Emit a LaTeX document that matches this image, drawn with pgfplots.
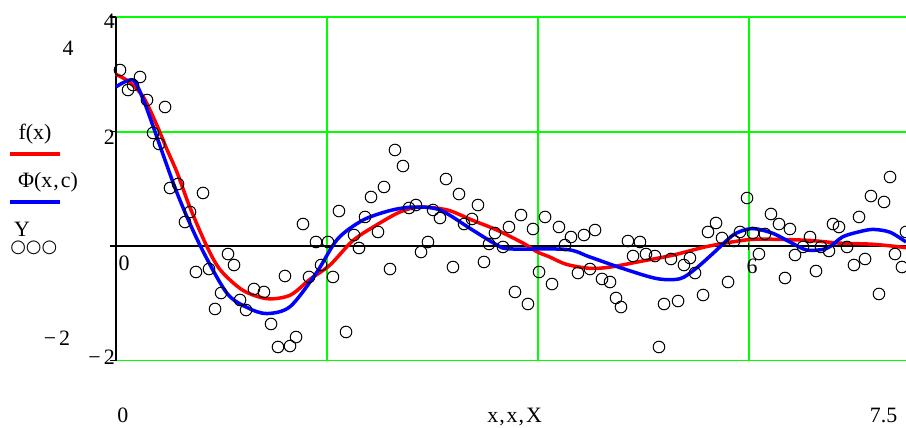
\documentclass[border=0pt]{standalone}
\usepackage{pgfplots}
\pgfplotsset{compat=1.18}
\usepackage{fontspec}
\setmainfont{Liberation Serif}
\newfontfamily\symfont{DejaVu Sans}
\definecolor{mcgreen}{RGB}{0,255,0}
\definecolor{mcred}{RGB}{255,0,0}
\definecolor{mcblue}{RGB}{0,0,255}
\begin{document}
\begin{tikzpicture}[font=\fontsize{22}{25}\selectfont]
\useasboundingbox (-116bp,-182bp) rectangle (790bp,246bp);
\begin{axis}[at={(0,0)}, anchor=origin,
  x=105.47bp, y=57.25bp,
  xmin=0, xmax=7.5, ymin=-2, ymax=4,
  axis lines=none, ticks=none, clip=false]
% grid
\draw[mcgreen, line width=1.5bp] (axis cs:2,-2) -- (axis cs:2,4);
\draw[mcgreen, line width=1.5bp] (axis cs:4,-2) -- (axis cs:4,4);
\draw[mcgreen, line width=1.5bp] (axis cs:6,-2) -- (axis cs:6,4);
\draw[mcgreen, line width=1.5bp] (axis cs:0,4) -- (axis cs:7.5,4);
\draw[mcgreen, line width=1.5bp] (axis cs:0,1.995) -- (axis cs:7.5,1.995);
\draw[mcgreen, line width=1.5bp] (axis cs:0,-2) -- (axis cs:7.5,-2);
% axes
\draw[black, line width=1.3bp] (axis cs:0,-2) -- (axis cs:0,4);
\draw[black, line width=1.1bp] (axis cs:-0.057,0) -- (axis cs:7.5,0);
\draw[black, line width=1.3bp] (axis cs:-0.057,4) -- (axis cs:0,4);
\draw[black, line width=1.3bp] (axis cs:-0.057,2) -- (axis cs:0,2);
\draw[black, line width=1.3bp] (axis cs:-0.057,-2) -- (axis cs:0,-2);
\draw[black, line width=1.1bp] (axis cs:6,0.05) -- (axis cs:6,-0.07);
% tick labels
\node[anchor=east, inner sep=0pt] at (axis cs:-0.01,3.93) {4};
\node[anchor=east, inner sep=0pt] at (axis cs:-0.01,1.90) {2};
\node[anchor=east, inner sep=0pt] at (axis cs:-0.01,-1.94) {−\hspace{3bp}2};
\node[inner sep=0pt] at (axis cs:0.076,-0.31) {0};
\node[inner sep=0pt] at (axis cs:6.03,-0.35) {6};
% outer labels
\node[inner sep=0pt] at (axis cs:-0.455,3.459) {4};
\node[inner sep=0pt] at (axis cs:-0.56,-1.607) {−\hspace{3bp}2};
\node[inner sep=0pt, anchor=base] at (axis cs:0.066,-3.09) {0};
\node[inner sep=0pt, anchor=base] at (axis cs:7.277,-3.09) {7.5};
\node[inner sep=0pt, anchor=base] at (axis cs:3.78,-3.09) {x\hspace{1bp},\hspace{2bp}x\hspace{1bp},\hspace{2bp}X};
% legend
\node[inner sep=0pt] at (axis cs:-0.768,1.95) {f(x)};
\draw[mcred, line width=3.5bp] (axis cs:-1.005,1.607) -- (axis cs:-0.531,1.607);
\node[inner sep=0pt] at (axis cs:-0.645,1.12) {Φ(x\hspace{1bp},\hspace{2bp}c)};
\draw[mcblue, line width=3.5bp] (axis cs:-1.005,0.768) -- (axis cs:-0.531,0.768);
\node[inner sep=0pt] at (axis cs:-0.89,0.29) {Y};
\node[inner sep=0pt, font=\symfont\fontsize{18}{20}\selectfont] at (axis cs:-0.78,-0.04) {○○○};
% f(x)
\addplot[mcred, line width=3.5bp, smooth, tension=0.5] coordinates {
(0,3.0) (0.13,2.86) (0.26,2.6) (0.39,2.1) (0.48,1.7) (0.58,1.28) (0.70,0.68)
(0.86,0.0) (0.99,-0.42) (1.2,-0.77) (1.43,-0.92) (1.65,-0.86) (1.84,-0.58)
(2.03,-0.33) (2.25,0.1) (2.5,0.4) (2.7,0.6) (2.88,0.68) (3.14,0.63) (3.38,0.45)
(3.61,0.28) (3.86,0.05) (3.99,-0.1) (4.11,-0.19) (4.27,-0.32) (4.49,-0.39)
(4.68,-0.37) (4.97,-0.27) (5.28,-0.16) (5.6,-0.01) (5.91,0.09) (6.1,0.12)
(6.55,0.1) (6.86,0.05) (7.18,0.03) (7.5,-0.03)};
% Phi(x,c)
\addplot[mcblue, line width=3.5bp, smooth, tension=0.5] coordinates {
(0,2.78) (0.16,2.9) (0.26,2.55) (0.35,2.1) (0.58,0.92) (0.8,0.0) (1.05,-0.82)
(1.25,-1.08) (1.43,-1.18) (1.65,-1.06) (1.9,-0.47) (2.1,0.12) (2.34,0.45)
(2.6,0.62) (2.82,0.68) (3.07,0.63) (3.38,0.28) (3.61,0.02) (3.73,-0.05)
(4.27,-0.06) (4.49,-0.19) (4.8,-0.39) (5.13,-0.57) (5.35,-0.57) (5.5,-0.39)
(5.66,-0.13) (5.85,0.19) (5.98,0.29) (6.07,0.3) (6.23,0.22) (6.39,0.07)
(6.55,-0.07) (6.74,-0.04) (6.89,0.16) (7.05,0.25) (7.18,0.29) (7.34,0.24)
(7.49,0.07)};
% Y
\addplot[only marks, mark=o, mark size=5.8bp, mark options={black, line width=1bp}] coordinates {
(0.038,3.074) (0.114,2.725) (0.161,2.812) (0.228,2.952) (0.294,2.550)
(0.351,1.974) (0.408,1.782) (0.465,2.428) (0.512,1.013) (0.588,1.083)
(0.654,0.419) (0.702,0.594) (0.758,-0.454) (0.825,0.926) (0.882,-0.402)
(0.939,-1.100) (0.996,-0.821) (1.062,-0.140) (1.119,-0.332) (1.176,-0.943)
(1.233,-1.118) (1.308,-0.751) (1.403,-0.803) (1.470,-1.362) (1.536,-1.764)
(1.602,-0.524) (1.650,-1.747) (1.707,-1.590) (1.773,0.384) (1.830,-0.541)
(1.896,0.070) (1.944,-0.332) (2.010,0.070) (2.057,-0.541) (2.114,0.611)
(2.181,-1.502) (2.257,0.192) (2.304,-0.035) (2.361,0.507) (2.418,0.856)
(2.484,0.245) (2.541,1.031) (2.598,-0.402) (2.645,1.677) (2.721,1.397)
(2.778,0.664) (2.844,0.716) (2.892,-0.105) (2.958,0.070) (3.006,0.629)
(3.072,0.489) (3.129,1.170) (3.195,-0.367) (3.252,0.908) (3.300,0.384)
(3.375,0.472) (3.432,0.716) (3.489,-0.279) (3.537,0.035) (3.593,0.227)
(3.669,-0.017) (3.726,0.332) (3.783,-0.803) (3.840,0.541) (3.906,-1.013)
(3.954,0.297) (4.011,-0.454) (4.068,0.507) (4.134,-0.664) (4.200,0.332)
(4.257,0.017) (4.314,0.157) (4.380,-0.472) (4.437,0.192) (4.494,-0.402)
(4.542,0.279) (4.608,-0.576) (4.684,-0.629) (4.741,-0.908) (4.788,-1.066)
(4.854,0.087) (4.902,-0.175) (4.968,0.070) (5.025,-0.140) (5.110,-0.175)
(5.148,-1.764) (5.196,-1.013) (5.262,-0.227) (5.329,-0.961) (5.385,-0.332)
(5.442,-0.210) (5.490,-0.472) (5.566,-0.856) (5.613,0.245) (5.689,0.402)
(5.746,0.140) (5.803,-0.629) (5.860,0.087) (5.916,0.245) (5.983,0.838)
(6.039,0.227) (6.096,-0.140) (6.153,0.210) (6.210,0.559) (6.286,0.384)
(6.343,-0.559) (6.390,0.297) (6.438,-0.157) (6.514,-0.017) (6.580,0.157)
(6.637,-0.437) (6.684,-0.017) (6.760,-0.087) (6.798,0.384) (6.855,0.332)
(6.931,-0.017) (6.997,-0.332) (7.045,0.507) (7.102,-0.227) (7.158,0.873)
(7.234,-0.838) (7.282,0.769) (7.339,1.205) (7.386,-0.140) (7.452,-0.367)
(7.490,0.245)};
\end{axis}
\end{tikzpicture}
\end{document}
